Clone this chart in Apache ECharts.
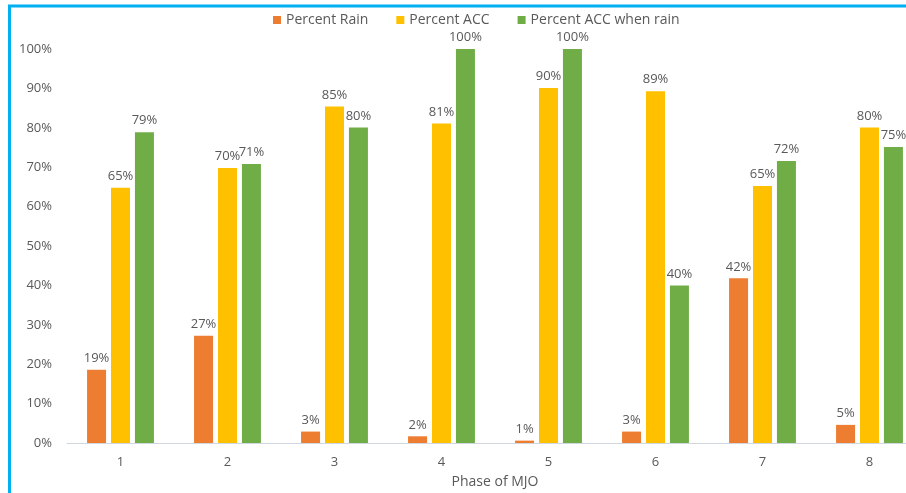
<!DOCTYPE html>
<html>
<head>
<meta charset="utf-8">
<script src="https://cdn.jsdelivr.net/npm/echarts@6/dist/echarts.min.js"></script>
<style>
html,body{margin:0;padding:0;background:#fff;}
#chart{width:906px;height:493px;}
</style>
</head>
<body>
<div id="chart"></div>
<script>
const categories = ['1','2','3','4','5','6','7','8'];
const percentRain = [18.6, 27.2, 2.9, 1.7, 0.6, 2.9, 41.8, 4.6];
const percentAcc = [64.8, 69.8, 85.4, 81.1, 90.1, 89.3, 65.2, 80.1];
const percentAccRain = [78.9, 70.8, 80.1, 100, 100, 40.0, 71.6, 75.1];
const yTicks = [0, 10, 20, 30, 40, 50, 60, 70, 80, 90, 100];

const FONT = 'Open Sans';
const TXT = '#595959';
const chart = echarts.init(document.getElementById('chart'));
const label = {
  show: true, position: 'top', distance: 5,
  color: TXT, fontFamily: FONT, fontSize: 13,
  formatter: p => Math.round(p.value) + '%'
};
function bar(name, data, color) {
  return {
    name, type: 'bar', data, barWidth: 19, barGap: '26%',
    itemStyle: { color }, label
  };
}
chart.setOption({
  animation: false,
  textStyle: { fontFamily: FONT },
  legend: {
    top: 8, left: 268, itemWidth: 8, itemHeight: 8, itemGap: 28,
    icon: 'rect',
    textStyle: { color: TXT, fontFamily: FONT, fontSize: 14 },
    data: ['Percent Rain', 'Percent ACC', 'Percent ACC when rain']
  },
  grid: { left: 67, width: 856, top: 49, bottom: 50, containLabel: false, outerBoundsMode: 'none' },
  xAxis: {
    type: 'category', data: categories,
    name: 'Phase of MJO', nameLocation: 'middle', nameGap: 32,
    nameTextStyle: { color: TXT, fontFamily: FONT, fontSize: 14 },
    axisLine: { lineStyle: { color: '#d0d7e0', width: 1 } },
    axisTick: { show: false },
    axisLabel: { color: TXT, fontFamily: FONT, fontSize: 13, margin: 13 }
  },
  yAxis: {
    type: 'value', min: yTicks[0], max: yTicks[yTicks.length - 1], interval: 10,
    splitLine: { show: false },
    axisLine: { show: false }, axisTick: { show: false },
    axisLabel: { color: TXT, fontFamily: FONT, fontSize: 13, margin: 15, formatter: '{value}%' }
  },
  series: [
    bar('Percent Rain', percentRain, '#ed7d31'),
    bar('Percent ACC', percentAcc, '#ffc000'),
    bar('Percent ACC when rain', percentAccRain, '#70ad47')
  ],
  graphic: [
    { type: 'line', shape: { x1: 9.5, y1: 6, x2: 9.5, y2: 493 }, style: { stroke: '#00b0f0', lineWidth: 3 } },
    { type: 'line', shape: { x1: 8, y1: 6, x2: 906, y2: 6 }, style: { stroke: '#00b0f0', lineWidth: 3 } }
  ]
});
</script>
</body>
</html>
